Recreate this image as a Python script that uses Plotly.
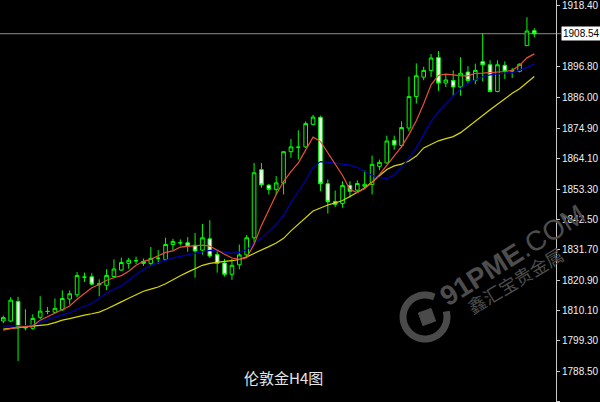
import math
import plotly.graph_objects as go

# ---- data ----
opens = [1806.4, 1806.4, 1813.3, 1803.9, 1803.8, 1807.7, 1809.8, 1809.5, 1810.4, 1814.2,
         1815.7, 1822.0, 1822.1, 1819.3, 1819.1, 1822.2, 1824.5, 1826.9, 1827.8, 1827.6,
         1826.9, 1828.7, 1828.2, 1833.6, 1834.2, 1834.2, 1833.3, 1831.6, 1835.6, 1830.0,
         1827.0, 1823.0, 1826.4, 1829.9, 1836.0, 1860.2, 1854.7, 1853.2, 1855.5, 1866.6,
         1868.2, 1868.3, 1876.3, 1878.8, 1855.2, 1848.9, 1848.2, 1854.6, 1852.9, 1854.3,
         1854.9, 1861.4, 1862.6, 1870.6, 1868.8, 1875.0, 1886.2, 1893.1, 1895.5, 1900.1,
         1891.0, 1891.9, 1889.6, 1894.9, 1892.0, 1898.6, 1897.5, 1888.0, 1897.3, 1895.2,
         1895.2, 1904.3, 1909.6]
highs = [1808.3, 1814.9, 1815.0, 1810.6, 1808.8, 1815.2, 1811.4, 1814.4, 1817.3, 1817.3,
         1823.8, 1823.6, 1823.4, 1821.2, 1824.8, 1828.3, 1828.9, 1828.8, 1829.3, 1828.6,
         1832.7, 1831.6, 1836.0, 1835.6, 1835.4, 1836.2, 1837.7, 1840.9, 1842.2, 1831.3,
         1828.5, 1828.5, 1833.6, 1837.0, 1862.6, 1862.6, 1855.1, 1857.9, 1866.8, 1871.1,
         1874.2, 1877.4, 1879.7, 1879.4, 1856.7, 1852.8, 1856.1, 1856.1, 1856.4, 1859.9,
         1865.2, 1863.8, 1872.3, 1872.3, 1877.4, 1893.3, 1898.0, 1896.8, 1901.3, 1902.4,
         1893.9, 1895.5, 1900.2, 1897.0, 1897.9, 1908.6, 1899.1, 1899.1, 1898.7, 1896.4,
         1898.0, 1914.4, 1910.5]
lows = [1805.6, 1806.0, 1792.2, 1803.1, 1803.3, 1807.1, 1808.8, 1809.2, 1810.0, 1812.2,
        1814.8, 1820.3, 1819.1, 1815.2, 1817.4, 1821.7, 1824.2, 1825.0, 1826.6, 1826.0,
        1826.0, 1826.6, 1827.7, 1831.5, 1833.3, 1831.0, 1821.8, 1830.0, 1828.9, 1823.6,
        1822.2, 1821.0, 1824.8, 1828.9, 1834.2, 1853.8, 1851.4, 1851.2, 1851.4, 1864.4,
        1863.8, 1867.9, 1876.0, 1852.6, 1844.6, 1846.9, 1846.7, 1850.2, 1852.0, 1853.2,
        1851.4, 1860.0, 1862.4, 1867.3, 1867.9, 1873.8, 1883.7, 1892.0, 1893.2, 1888.2,
        1889.6, 1886.5, 1886.5, 1890.6, 1890.6, 1891.6, 1887.7, 1887.7, 1892.5, 1892.8,
        1894.8, 1904.2, 1907.3]
closes = [1807.6, 1813.8, 1804.0, 1804.2, 1807.3, 1809.9, 1809.8, 1810.9, 1814.4, 1816.1,
          1822.6, 1822.0, 1819.5, 1819.6, 1822.6, 1824.9, 1827.2, 1828.0, 1827.8, 1826.9,
          1828.7, 1828.7, 1833.6, 1834.7, 1834.2, 1833.1, 1831.3, 1836.0, 1829.5, 1826.9,
          1823.0, 1826.2, 1829.9, 1836.0, 1859.1, 1854.8, 1853.2, 1855.5, 1866.6, 1868.3,
          1868.2, 1876.6, 1878.9, 1855.2, 1848.8, 1847.9, 1854.6, 1852.5, 1855.3, 1855.0,
          1862.1, 1862.8, 1870.4, 1869.0, 1875.2, 1886.2, 1893.6, 1895.5, 1899.9, 1891.0,
          1892.1, 1889.6, 1894.5, 1891.9, 1895.5, 1897.5, 1888.0, 1897.5, 1895.2, 1895.5,
          1897.7, 1909.5, 1908.54]
ma_red = [1803.15, 1803.69, 1804.22, 1804.40, 1804.68, 1806.70, 1807.94, 1809.18, 1810.60, 1811.74,
          1814.15, 1816.27, 1818.22, 1819.36, 1820.88, 1821.77, 1822.55, 1824.08, 1826.20, 1827.62,
          1828.33, 1829.57, 1830.81, 1831.35, 1832.69, 1832.94, 1833.23, 1833.37, 1833.05, 1831.52,
          1830.10, 1828.79, 1828.33, 1828.93, 1833.65, 1840.39, 1846.06, 1851.38, 1855.99, 1859.54,
          1862.62, 1867.34, 1871.77, 1870.28, 1866.27, 1862.20, 1858.12, 1853.15, 1852.09, 1853.51,
          1855.64, 1858.47, 1861.66, 1864.86, 1868.40, 1872.66, 1877.62, 1883.65, 1890.39, 1893.76,
          1894.18, 1893.93, 1893.58, 1893.58, 1894.47, 1894.54, 1894.64, 1894.82, 1895.10, 1895.53,
          1897.30, 1899.96, 1901.38]
ma_blue = [1804.57, 1804.57, 1804.57, 1804.75, 1804.93, 1805.99, 1806.88, 1807.76, 1808.47, 1809.36,
           1810.60, 1811.66, 1812.73, 1814.50, 1816.27, 1817.69, 1818.93, 1820.88, 1823.01, 1824.61,
           1826.20, 1827.09, 1827.98, 1828.86, 1829.40, 1829.93, 1830.46, 1830.99, 1831.52, 1831.35,
           1830.81, 1830.46, 1830.81, 1831.70, 1834.01, 1835.78, 1838.26, 1840.74, 1843.93, 1848.54,
           1852.44, 1856.35, 1861.13, 1863.08, 1862.91, 1862.55, 1862.37, 1861.84, 1860.96, 1859.54,
           1858.12, 1857.41, 1857.05, 1858.30, 1861.31, 1864.15, 1868.05, 1872.66, 1877.27, 1880.81,
           1883.47, 1886.13, 1888.97, 1890.92, 1892.16, 1893.23, 1893.93, 1894.29, 1894.54, 1894.64,
           1895.53, 1896.59, 1897.73]
ma_yellow = [1803.51, 1803.76, 1804.04, 1804.22, 1804.47, 1804.68, 1805.10, 1805.81, 1806.70, 1807.27,
             1807.94, 1808.47, 1808.97, 1809.54, 1810.67, 1811.84, 1813.19, 1814.50, 1815.81, 1816.98,
             1817.76, 1818.47, 1819.64, 1821.17, 1822.48, 1823.79, 1825.14, 1826.20, 1826.91, 1827.34,
             1827.62, 1827.83, 1828.26, 1829.22, 1830.35, 1831.52, 1832.83, 1834.15, 1835.78, 1838.44,
             1840.92, 1843.40, 1845.53, 1846.59, 1847.66, 1848.37, 1849.25, 1850.67, 1852.09, 1853.69,
             1855.81, 1858.12, 1860.25, 1861.56, 1862.20, 1863.26, 1865.03, 1867.94, 1869.29, 1870.46,
             1871.24, 1871.95, 1873.37, 1875.49, 1877.62, 1879.57, 1881.52, 1883.47, 1885.42, 1887.34,
             1888.97, 1891.10, 1893.33]
tick_vals = [1777.70, 1788.50, 1799.30, 1810.10, 1820.90, 1831.70, 1842.50, 1853.30,
             1864.10, 1874.90, 1886.00, 1896.80, 1918.40]
last_price = 1908.54
chart_title = "伦敦金H4图"
wm_site = "<b>91PME</b>.COM"
wm_name = "鑫汇宝贵金属"

idx = list(range(len(opens)))

# ---- layout geometry ----
W, H = 600, 402
PW, PH = 556, 402  # plot area in px


def px(x):
    return x / PW


def py(y):
    return 1 - y / PH


fig = go.Figure()
fig.add_trace(go.Scatter(x=idx, y=ma_yellow, mode="lines",
                         line=dict(color="#d8d800", width=1.2), hoverinfo="skip"))
fig.add_trace(go.Scatter(x=idx, y=ma_blue, mode="lines",
                         line=dict(color="#0000b4", width=1.2), hoverinfo="skip"))
fig.add_trace(go.Scatter(x=idx, y=ma_red, mode="lines",
                         line=dict(color="#e8503a", width=1.2), hoverinfo="skip"))
fig.add_trace(go.Candlestick(
    x=idx, open=opens, high=highs, low=lows, close=closes,
    increasing=dict(line=dict(color="#00ff00", width=1), fillcolor="#000000"),
    decreasing=dict(line=dict(color="#00ff00", width=1), fillcolor="#ffffff"),
    whiskerwidth=0,
))

shapes = []
# last price line
shapes.append(dict(type="line", xref="paper", yref="y", x0=0, x1=px(561),
                   y0=last_price, y1=last_price,
                   line=dict(color="#8c8c8c", width=1), layer="below"))

# watermark logo: ring with gap + square
cx, cy, r = 425, 317, 22
pts = []
ang = 65
while ang <= 375:
    a = math.radians(ang)
    pts.append((cx + r * math.cos(a), cy - r * math.sin(a)))
    ang += 10
path = "M " + " L ".join(f"{px(x):.5f},{py(y):.5f}" for x, y in pts)
shapes.append(dict(type="path", xref="paper", yref="paper", path=path,
                   line=dict(color="#4a4a4a", width=7), layer="below"))
sq = []
for a in (65, 155, 245, 335):
    ar = math.radians(a)
    sq.append((cx + 2 + 9.5 * math.cos(ar), cy - 9.5 * math.sin(ar)))
sqpath = "M " + " L ".join(f"{px(x):.5f},{py(y):.5f}" for x, y in sq) + " Z"
shapes.append(dict(type="path", xref="paper", yref="paper", path=sqpath,
                   fillcolor="#4a4a4a", line=dict(color="#4a4a4a", width=1), layer="below"))

annotations = [
    dict(text=wm_site, x=px(512), y=py(255), xref="paper", yref="paper",
         xanchor="center", yanchor="middle",
         showarrow=False, textangle=-32,
         font=dict(family="Liberation Sans", size=28, color="#4d4d4d")),
    dict(text=wm_name, x=px(515), y=py(280), xref="paper", yref="paper",
         xanchor="center", yanchor="middle",
         showarrow=False, textangle=-31,
         font=dict(family="Noto Sans CJK SC", size=18, color="#4d4d4d")),
    dict(text=chart_title, x=px(283), y=py(377), xref="paper", yref="paper",
         xanchor="center", yanchor="middle",
         showarrow=False,
         font=dict(family="Noto Sans CJK SC", size=15, color="#e6e6e6")),
    dict(text=f"{last_price:.2f}", x=px(561), y=last_price, xref="paper", yref="y",
         xanchor="left", yanchor="middle", showarrow=False,
         bgcolor="#ffffff", borderpad=1,
         font=dict(family="Liberation Sans", size=10, color="#000000")),
]

fig.update_layout(
    width=W, height=H,
    margin=dict(l=0, r=W - PW, t=0, b=0, autoexpand=False),
    paper_bgcolor="#000000", plot_bgcolor="#000000",
    showlegend=False,
    shapes=shapes, annotations=annotations,
    xaxis=dict(range=[-0.45, 74.94], visible=False, rangeslider=dict(visible=False),
               showgrid=False, zeroline=False),
    yaxis=dict(range=[1777.6, 1920.53], side="right", showgrid=False, zeroline=False,
               tickmode="array", tickvals=tick_vals,
               ticktext=[f"{v:.2f}" for v in tick_vals],
               ticks="outside", ticklen=3, tickcolor="#c8c8c8",
               showline=True, linecolor="#c8c8c8", linewidth=1,
               tickfont=dict(family="Liberation Sans", size=10, color="#f0f0f0")),
)

fig.write_html(
    "out.html",
    config={"displayModeBar": False},
    post_script="document.body.style.margin='0';document.body.style.padding='0';"
                "document.body.style.overflow='hidden';document.body.style.background='#000';",
)
